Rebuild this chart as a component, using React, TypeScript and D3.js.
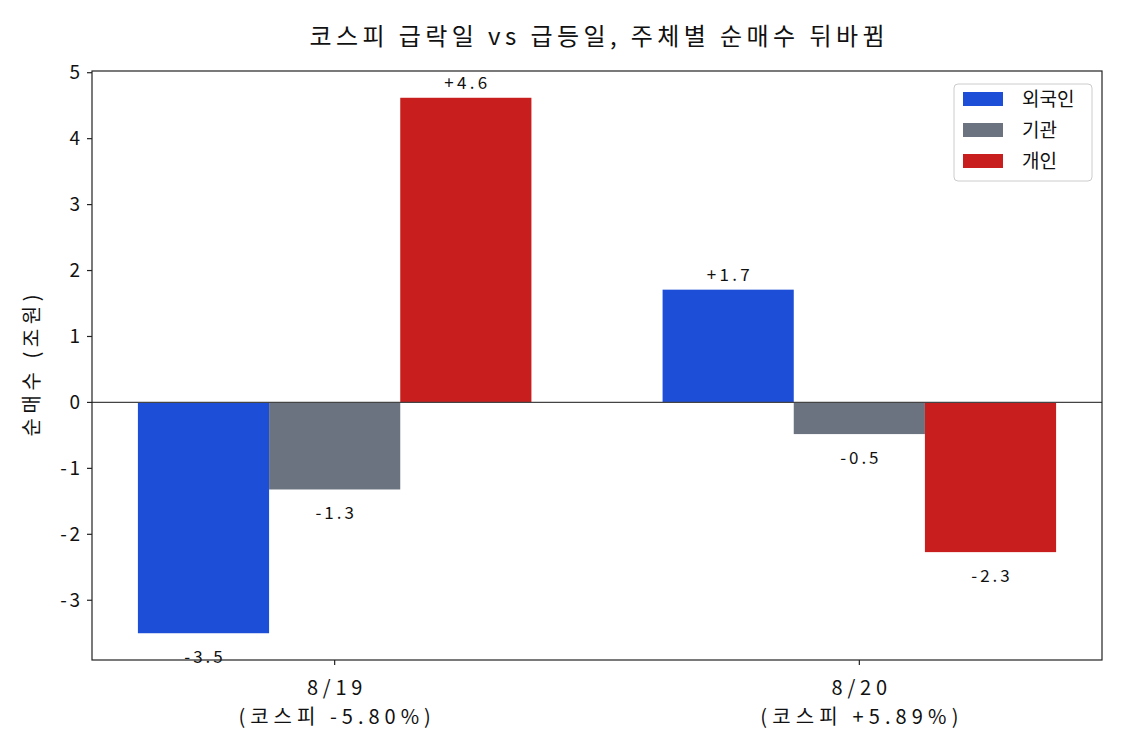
import { useRef, useEffect } from "react";
import * as d3 from "d3";

const dates = ["8/19", "8/20"];
const kospiChange = ["(코스피 -5.80%)", "(코스피 +5.89%)"];
const investors = ["외국인", "기관", "개인"];
const colors = ["#1d4ed8", "#6b7280", "#c81e1e"];
// net buying (조원), one row per investor, one value per date
const foreign = [-3.5, 1.71];
const institution = [-1.32, -0.48];
const individual = [4.62, -2.27];
const yTicks = [-3, -2, -1, 0, 1, 2, 3, 4, 5];

const FONT = "'Noto Sans CJK KR', 'Noto Sans', sans-serif";

// the original font is wider than anything installed, so stretch text spacing a bit
const widen = (sel: d3.Selection<any, unknown, null, undefined>, factor: number) => {
  sel.each(function () {
    const el = this as SVGTextContentElement;
    const w = el.getComputedTextLength();
    if (w > 0) {
      el.setAttribute("textLength", String(w * factor));
      el.setAttribute("lengthAdjust", "spacing");
    }
  });
};

export default function App() {
  const svgRef = useRef<SVGSVGElement>(null);
  const width = 1125;
  const height = 750;

  useEffect(() => {
    const svg = d3.select(svgRef.current);
    svg.selectAll("*").remove();

    const left = 92;
    const right = 1102;
    const top = 71;
    const bottom = 660;
    const barW = 0.25;
    const series = [foreign, institution, individual];

    const allVals = series.flat();
    const lo = Math.min(0, d3.min(allVals)!);
    const hi = Math.max(0, d3.max(allVals)!);
    const pad = (hi - lo) * 0.05;

    const y = d3.scaleLinear().domain([lo - pad, hi + pad]).range([bottom, top]);
    const xLo = -1.5 * barW;
    const xHi = dates.length - 1 + 1.5 * barW;
    const xPad = (xHi - xLo) * 0.05;
    const x = d3.scaleLinear().domain([xLo - xPad, xHi + xPad]).range([left, right]);

    svg.attr("font-family", FONT);

    // title
    const title = svg
      .append("text")
      .attr("x", (left + right) / 2)
      .attr("y", 45)
      .attr("text-anchor", "middle")
      .attr("font-size", 24)
      .attr("fill", "#111")
      .text("코스피 급락일 vs 급등일, 주체별 순매수 뒤바뀜");
    widen(title, 575 / (title.node() as SVGTextElement).getComputedTextLength());

    // bars
    const g = svg.append("g");
    series.forEach((vals, si) => {
      vals.forEach((v, di) => {
        const cx = di + (si - 1) * barW;
        const x0 = x(cx - barW / 2);
        const x1 = x(cx + barW / 2);
        g.append("rect")
          .attr("x", x0)
          .attr("width", x1 - x0)
          .attr("y", y(Math.max(0, v)))
          .attr("height", Math.abs(y(v) - y(0)))
          .attr("fill", colors[si]);
        const label = (v >= 0 ? "+" : "") + v.toFixed(1);
        const t = g
          .append("text")
          .attr("x", x(cx))
          .attr("y", v >= 0 ? y(v + 0.05) : y(v - 0.3))
          .attr("dy", v >= 0 ? "-0.3em" : "0.6em")
          .attr("text-anchor", "middle")
          .attr("font-size", 17)
          .attr("fill", "#111")
          .text(label);
        widen(t, 1.3);
      });
    });

    // zero line
    svg
      .append("line")
      .attr("x1", left)
      .attr("x2", right)
      .attr("y1", y(0))
      .attr("y2", y(0))
      .attr("stroke", "#444")
      .attr("stroke-width", 1.2);

    // frame
    svg
      .append("rect")
      .attr("x", left)
      .attr("y", top)
      .attr("width", right - left)
      .attr("height", bottom - top)
      .attr("fill", "none")
      .attr("stroke", "#222")
      .attr("stroke-width", 1.2);

    // y axis
    const yAxis = svg.append("g");
    yTicks.forEach((t) => {
      yAxis
        .append("line")
        .attr("x1", left - 5)
        .attr("x2", left)
        .attr("y1", y(t))
        .attr("y2", y(t))
        .attr("stroke", "#222")
        .attr("stroke-width", 1.2);
      const lab = yAxis
        .append("text")
        .attr("x", left - 12)
        .attr("y", y(t))
        .attr("dy", "0.35em")
        .attr("text-anchor", "end")
        .attr("font-size", 19)
        .attr("fill", "#111")
        .text(String(t));
      widen(lab, 1.15);
    });
    const yLabel = svg
      .append("text")
      .attr("transform", `translate(39,${(top + bottom) / 2}) rotate(-90)`)
      .attr("text-anchor", "middle")
      .attr("font-size", 20)
      .attr("fill", "#111")
      .text("순매수 (조원)");
    widen(yLabel, 142 / (yLabel.node() as SVGTextElement).getComputedTextLength());

    // x axis: date on one line, index move below it
    dates.forEach((d, i) => {
      svg
        .append("line")
        .attr("x1", x(i))
        .attr("x2", x(i))
        .attr("y1", bottom)
        .attr("y2", bottom + 5)
        .attr("stroke", "#222")
        .attr("stroke-width", 1.2);
      const l1 = svg
        .append("text")
        .attr("x", x(i))
        .attr("y", bottom + 35)
        .attr("text-anchor", "middle")
        .attr("font-size", 20)
        .attr("fill", "#111")
        .text(d);
      const l2 = svg
        .append("text")
        .attr("x", x(i))
        .attr("y", bottom + 64)
        .attr("text-anchor", "middle")
        .attr("font-size", 20)
        .attr("fill", "#111")
        .text(kospiChange[i]);
      widen(l1, 1.35);
      widen(l2, 1.4);
    });

    // legend
    const lg = svg.append("g").attr("transform", "translate(954,84)");
    lg.append("rect")
      .attr("width", 138)
      .attr("height", 97)
      .attr("rx", 4)
      .attr("fill", "white")
      .attr("fill-opacity", 0.8)
      .attr("stroke", "#ccc");
    investors.forEach((name, i) => {
      const cy = 15 + i * 31;
      lg.append("rect")
        .attr("x", 9)
        .attr("y", cy - 7)
        .attr("width", 40)
        .attr("height", 14)
        .attr("fill", colors[i]);
      lg.append("text")
        .attr("x", 68)
        .attr("y", cy)
        .attr("dy", "0.35em")
        .attr("font-size", 19)
        .attr("fill", "#111")
        .text(name);
    });
  }, []);

  return (
    <svg
      ref={svgRef}
      width={width}
      height={height}
      style={{ display: "block", margin: -8, background: "white" }}
    ></svg>
  );
}
